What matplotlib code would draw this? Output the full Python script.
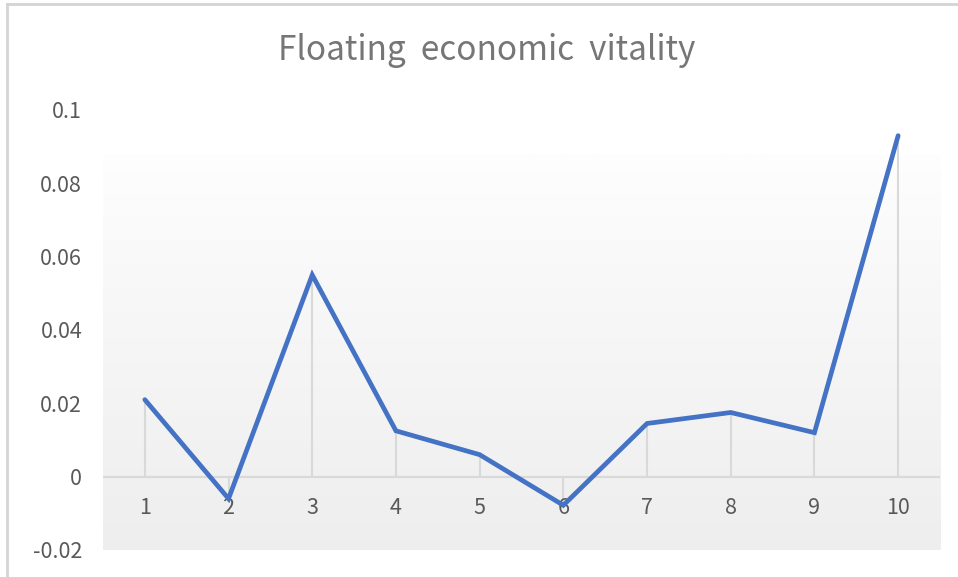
import matplotlib.pyplot as plt
import numpy as np
from matplotlib.lines import Line2D

plt.rcParams['font.family'] = ['Noto Sans CJK SC', 'DejaVu Sans']

# values for each period
periods = ['1', '2', '3', '4', '5', '6', '7', '8', '9', '10']
vitality = [0.021, -0.006, 0.055, 0.0125, 0.006, -0.0078, 0.0145, 0.0175, 0.012, 0.093]
y_ticks = [-0.02, 0, 0.02, 0.04, 0.06, 0.08, 0.1]
y_labels = ['-0.02', '0', '0.02', '0.04', '0.06', '0.08', '0.1']

fig = plt.figure(figsize=(9.58, 5.77), dpi=100)
ax = fig.add_axes([0.1075, 0.0468, 0.8737, 0.7626])

x = np.arange(len(periods))
ax.set_xlim(-0.5, len(periods) - 0.5)
ax.set_ylim(-0.02, 0.1)

# soft grey fill behind the plot, fading out towards the top
grad = np.linspace(0, 1, 256).reshape(-1, 1)
top_c = np.array([0xfe, 0xfe, 0xfe]) / 255
bot_c = np.array([0xee, 0xee, 0xee]) / 255
img = top_c + (bot_c - top_c) * grad[:, :, None] ** 0.9
ax.imshow(img, extent=[-0.5, len(periods) - 0.5, -0.02, 0.0879],
          origin='upper', aspect='auto', zorder=0)

# zero line and drop lines
ax.axhline(0, color='#d9d9d9', lw=1.6, zorder=1)
ax.vlines(x, 0, vitality, color='#d9d9d9', lw=1.5, zorder=1)

ax.plot(x, vitality, color='#4472C4', lw=3.4, solid_capstyle='round',
        solid_joinstyle='miter', zorder=3)

for xi, lab in zip(x, periods):
    ax.text(xi, -0.0085, lab, ha='center', va='center', fontsize=15.5,
            color='#595959', zorder=2)

ax.set_xticks([])
ax.set_yticks(y_ticks)
ax.set_yticklabels(y_labels, fontsize=15.5, color='#595959')
ax.tick_params(axis='y', length=0, pad=15)
for s in ax.spines.values():
    s.set_visible(False)
ax.patch.set_alpha(0)

fig.text(0.508, 0.912, 'Floating  economic  vitality', ha='center', va='center',
         fontsize=24, color='#767676')

# outer chart border (top and left edges)
fig.add_artist(Line2D([7 / 958, 1], [1 - 4 / 577, 1 - 4 / 577],
                      transform=fig.transFigure, color='#d4d4d4', lw=2))
fig.add_artist(Line2D([7 / 958, 7 / 958], [0, 1 - 4 / 577],
                      transform=fig.transFigure, color='#d4d4d4', lw=2))

fig.savefig('out.png', dpi=100)
